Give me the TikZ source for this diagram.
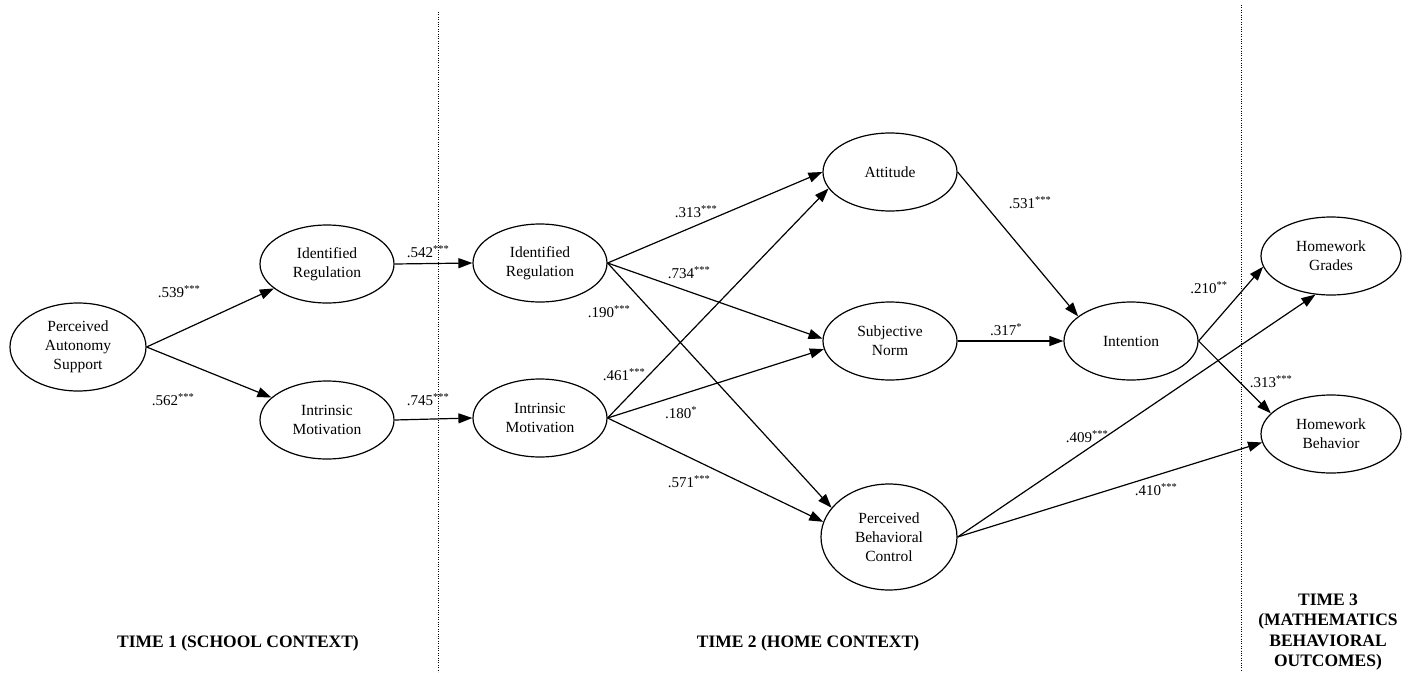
\documentclass[tikz,border=0pt]{standalone}
\usepackage{fontspec}
\setmainfont{Liberation Serif}
\usetikzlibrary{shapes.geometric,arrows.meta}
\begin{document}
\begin{tikzpicture}[x=1pt,y=-1pt,
  lat/.style={ellipse,draw,line width=1.2pt,inner sep=0pt,align=center,
    minimum width=134pt,minimum height=78pt,font=\fontsize{15.5}{19}\selectfont},
  arr/.style={-{Triangle[length=14pt,width=10pt]},line width=1.2pt},
  lab/.style={font=\fontsize{15}{18}\selectfont,inner sep=0pt},
  tlab/.style={font=\bfseries\fontsize{17.5}{20.5}\selectfont,align=center,inner sep=0pt},
  sep/.style={line width=0.8pt,dash pattern=on 0.8pt off 1.6pt}]
\useasboundingbox (0,0) rectangle (1416,672);

% separators
\coordinate (s1t) at (438,12);
\coordinate (s1b) at (438,672);
\coordinate (s2t) at (1241,5);
\coordinate (s2b) at (1241,672);
\draw[sep] (s1t) -- (s1b);
\draw[sep] (s2t) -- (s2b);

% latent variables
\node[lat,minimum width=136pt,minimum height=88pt] (PAS) at (78,347) {Perceived\\Autonomy\\Support};
\node[lat] (IR1) at (327,264) {Identified\\Regulation};
\node[lat] (IM1) at (327,420) {Intrinsic\\Motivation};
\node[lat] (IR2) at (540,263) {Identified\\Regulation};
\node[lat] (IM2) at (540,418) {Intrinsic\\Motivation};
\node[lat] (ATT) at (890,172) {Attitude};
\node[lat] (SN) at (890,341) {Subjective\\Norm};
\node[lat,minimum width=136pt,minimum height=106pt] (PBC) at (889,537) {Perceived\\Behavioral\\Control};
\node[lat] (INT) at (1131,341) {Intention};
\node[lat,minimum width=140pt] (HG) at (1331,256) {Homework\\Grades};
\node[lat,minimum width=140pt] (HB) at (1331,434) {Homework\\Behavior};

% paths
\draw[arr] (PAS.east) -- (IR1);
\draw[arr] (PAS.east) -- (IM1);
\draw[arr] (IR1.east) -- (IR2.west);
\draw[arr] (IM1.east) -- (IM2.west);
\draw[arr] (IR2.east) -- (ATT.180);
\draw[arr] (IR2.east) -- (SN.178);
\draw[arr] (IR2.east) -- (PBC.153);
\draw[arr] (IM2.east) -- (ATT.195);
\draw[arr] (IM2.east) -- (SN.187);
\draw[arr] (IM2.east) -- (PBC.167);
\draw[arr] (ATT.east) -- (INT.155);
\draw[arr] (SN.east) -- (INT.west);
\draw[arr] (INT.east) -- (HG.189);
\draw[arr] (INT.east) -- (HB.161);
\draw[arr] (PBC.east) -- (HG.248);
\draw[arr] (PBC.east) -- (HB.187);

% coefficients
\node[lab] (l1) at (179,292) {.539\textsuperscript{***}};
\node[lab] (l2) at (173,400) {.562\textsuperscript{***}};
\node[lab] (l3) at (428,252) {.542\textsuperscript{***}};
\node[lab] (l4) at (428,400) {.745\textsuperscript{***}};
\node[lab] (l5) at (696,212) {.313\textsuperscript{***}};
\node[lab] (l6) at (689,273) {.734\textsuperscript{***}};
\node[lab] (l7) at (609,312) {.190\textsuperscript{***}};
\node[lab] (l8) at (624,375) {.461\textsuperscript{***}};
\node[lab] (l9) at (681,413) {.180\textsuperscript{*}};
\node[lab] (l10) at (689,482) {.571\textsuperscript{***}};
\node[lab] (l11) at (1030,203) {.531\textsuperscript{***}};
\node[lab] (l12) at (1006,330) {.317\textsuperscript{*}};
\node[lab] (l13) at (1209,288) {.210\textsuperscript{**}};
\node[lab] (l14) at (1271,382) {.313\textsuperscript{***}};
\node[lab] (l15) at (1087,437) {.409\textsuperscript{***}};
\node[lab] (l16) at (1156,490) {.410\textsuperscript{***}};

% time labels
\node[tlab] (t1) at (238,643) {TIME 1 (SCHOOL CONTEXT)};
\node[tlab] (t2) at (808,643) {TIME 2 (HOME CONTEXT)};
\node[tlab] (t3) at (1328,632) {TIME 3\\(MATHEMATICS\\BEHAVIORAL\\OUTCOMES)};
\end{tikzpicture}
\end{document}
